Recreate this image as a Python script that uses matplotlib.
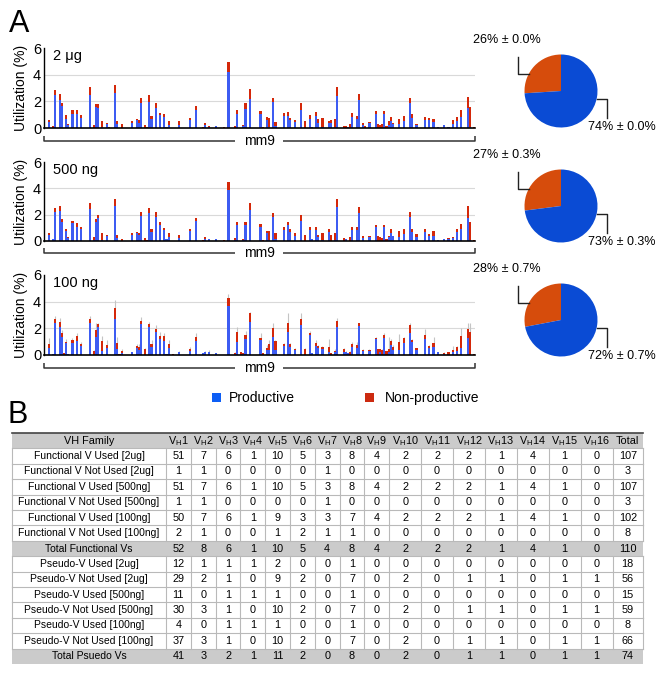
import numpy as np
import matplotlib
matplotlib.use('Agg')
import matplotlib.pyplot as plt
from matplotlib.patches import Rectangle

plt.rcParams['font.family'] = ['Liberation Sans', 'DejaVu Sans']
plt.rcParams['mathtext.fontset'] = 'custom'
plt.rcParams['mathtext.rm'] = 'Liberation Sans'
plt.rcParams['mathtext.it'] = 'Liberation Sans:italic'

# ---------------- data ----------------
n_slots = 200
gene_idx = [0,2,3,5,6,7,8,9,11,13, 15,19,21,22,23,25,27,28,31,32, 33,34,39,41,42,43,45,46,47,48,
            50,52,54,55,56,58,61,66,69,72, 73,75,78,82,84,87,88,90,91,92, 94,99,100,102,103,105,106,110,112,113,
            115,118,120,122,123,125,126,128,131,132, 134,135,138,139,140,141,142,144,145,147,
            148,150,153,154,155,156,157,158,159,160, 161,164,166,169,170,172,176,178,180,182,
            185,187,189,191,193,196,197,199]

prod_2ug = [.45,.03,2.5,2.1,1.62,0,.65,.2,1.08,1.02, .75,2.45,.02,1.58,1.5,.05,.28,0,2.65,.28,
            0,0,.4,.58,.38,1.88,.02,0,1.95,.65, 1.52,.95,.83,.08,.2,0,.2,.62,1.38,0,
            .25,.1,.15,0,4.2,.02,1.08,0,.17,1.4, 2.2,1.06,0,.62,.1,1.93,.17,.91,.91,.62,
            .42,1.36,.02,.67,.07,.91,.37,.05,.37,.37, .05,2.4,0,0,.07,0,.81,.67,2.1,.22,
            0,.37,1.06,0,0,0,1.06,0,.25,.49, .3,.32,.49,1.85,.74,.25,.62,.57,.42,.07,
            .2,.07,.32,.49,.79,1.53,.07,0]
nonprod_2ug = [.15,.12,.33,.43,.26,0,.3,.08,.3,.36, .2,.63,.18,.2,.28,.45,.12,.08,.55,.24,
               0,.28,.12,.07,.2,.4,.18,.08,.55,.23, .36,.2,.2,0,.32,0,.32,.13,.27,.08,
               .15,.05,0,.08,.75,.13,.3,0,.08,.45, .76,.24,.07,.18,.64,.34,.25,.25,.32,.14,
               .15,.49,.47,.27,0,.32,.3,.71,.12,.25, .62,.64,.17,.17,0,.32,.35,.24,.44,.15,
               .12,.1,.24,.32,.25,.32,.24,.17,.24,.37, .07,.37,.42,.42,.32,.07,.22,.19,.27,0,
               .05,0,.25,.32,.57,.82,1.53,.07]

prod_500ng = [.43,.1,2.17,2.3,1.45,0,.74,.2,1.33,1.07, .9,2.4,.02,1.45,1.7,.05,.36,0,2.68,.2,
              0,0,.43,.56,.4,1.91,0,0,2.09,.69, 1.84,1.2,.82,.13,.26,0,.18,.77,1.53,0,
              .13,.1,.15,0,3.88,.02,1.2,0,.05,1.2, 2.35,1.07,0,.61,.05,1.84,.1,.82,1.2,.69,
              .38,1.5,0,.82,.1,.82,.26,.05,.64,0, .05,2.55,0,.1,0,0,.82,.82,2.09,.18,
              0,.31,1.02,0,0,0,1.07,0,.26,.56, .36,.31,.51,1.84,.69,.31,.69,.36,.36,.05,
              .1,.1,.2,.64,.87,1.71,.05,0]
nonprod_500ng = [.13,.03,.36,.35,.21,0,.16,.06,.17,.26, .17,.5,.24,.18,.26,.51,.07,0,.51,.23,
                 0,.13,.13,.08,.16,.31,.2,.05,.38,.18, .38,.25,.17,0,.3,0,.25,.13,.23,.05,
                 .13,0,0,.05,.58,.16,.25,0,.05,.25, .55,.21,.05,.16,.66,.3,.46,.2,.25,.23,
                 .23,.5,.41,.25,0,.25,.2,.56,.26,.41, .56,.61,.2,.05,0,.31,.2,.2,.51,.18,
                 0,.07,.18,.36,.31,.2,.1,.15,.1,.34, 0,.4,.39,.38,.21,.2,.21,.15,.41,0,
                 .05,.08,.06,.26,.41,.94,1.4,.05]

prod_100ng = [.55,.05,2.38,2.08,1.38,.02,.88,.05,.88,1.08, .68,2.38,.02,1.38,2.08,.33,.5,0,2.68,.43,
              0,.18,.2,.55,.38,2.33,0,0,2.08,.63, 1.73,1.23,1.08,.08,.5,0,.25,.33,1.08,.13,
              .25,.25,.13,0,3.7,.05,1.0,0,.1,1.18, 2.5,1.13,0,.38,.38,1.38,.38,.68,1.75,.63,
              .38,2.25,0,1.5,.13,.68,.5,.45,.25,0, .25,2.08,.25,.2,.13,0,.58,.5,2.18,.28,
              0,.28,1.18,0,.25,0,1.25,0,.2,.75, .38,.38,.88,1.63,1.0,.38,1.2,.5,.63,.25,
              .1,0,.25,.33,.5,1.25,0,0]
nonprod_100ng = [.28,.03,.3,.37,.3,.16,.12,.03,.25,.35, .15,.3,.28,.5,.25,.72,.25,0,.87,.5,
                 .08,.15,0,.13,.2,.25,.45,0,.22,.2, .2,.22,.35,0,.33,.08,0,.12,.3,0,
                 0,0,0,0,.6,.13,.75,.22,.03,.32, .65,.12,.13,.12,.45,.62,.7,.15,.63,.2,
                 .07,.43,.45,.18,0,.2,.18,.13,.38,.18, .08,.5,.18,.05,0,.25,.25,.25,.2,.1,
                 0,.1,.07,.43,.18,.38,.25,.33,.23,.33, .25,.62,.37,.62,.13,.12,.3,.18,.3,0,
                 .08,.25,.13,.25,.93,.7,1.75,.08]
err_100ng = [.42,0,.25,.3,.2,0,.18,0,.15,.25, .15,.25,.1,.5,.1,.38,.38,0,.58,.45,
             0,.1,.05,.15,.25,.3,.1,0,.2,.3, .32,.3,.2,0,.3,0,.05,.18,.25,.05,
             .05,.13,0,0,.28,.05,.38,0,.05,.28, .1,.38,0,.25,.3,.38,.05,.1,.75,.1,
             .1,.45,.1,.15,0,.25,.1,.1,.55,0, .1,.17,.1,.05,0,.05,.17,.2,.05,.05,
             0,.05,.1,.05,.05,.05,.13,0,.9,.1, .1,.58,.1,.18,.1,.05,.43,.1,.45,0,
             .05,0,.3,.1,.57,.48,.68,0]

panel_labels = ['2 μg', '500 ng', '100 ng']
pie_nonprod = [26, 27, 28]
pie_prod = [74, 73, 72]
pie_sd = ['0.0', '0.3', '0.7']

col_labels = ['VH Family'] + [r'V$_{\mathrm{H}}$' + str(i) for i in range(1, 17)] + ['Total']
row_labels = ['Functional V Used [2ug]', 'Functional V Not Used [2ug]',
              'Functional V Used [500ng]', 'Functional V Not Used [500ng]',
              'Functional V Used [100ng]', 'Functional V Not Used [100ng]',
              'Total Functional Vs',
              'Pseudo-V Used [2ug]', 'Pseudo-V Not Used [2ug]',
              'Pseudo-V Used [500ng]', 'Pseudo-V Not Used [500ng]',
              'Pseudo-V Used [100ng]', 'Pseudo-V Not Used [100ng]',
              'Total Psuedo Vs']
table_values = [
    [51, 7, 6, 1, 10, 5, 3, 8, 4, 2, 2, 2, 1, 4, 1, 0, 107],
    [1, 1, 0, 0, 0, 0, 1, 0, 0, 0, 0, 0, 0, 0, 0, 0, 3],
    [51, 7, 6, 1, 10, 5, 3, 8, 4, 2, 2, 2, 1, 4, 1, 0, 107],
    [1, 1, 0, 0, 0, 0, 1, 0, 0, 0, 0, 0, 0, 0, 0, 0, 3],
    [50, 7, 6, 1, 9, 3, 3, 7, 4, 2, 2, 2, 1, 4, 1, 0, 102],
    [2, 1, 0, 0, 1, 2, 1, 1, 0, 0, 0, 0, 0, 0, 0, 0, 8],
    [52, 8, 6, 1, 10, 5, 4, 8, 4, 2, 2, 2, 1, 4, 1, 0, 110],
    [12, 1, 1, 1, 2, 0, 0, 1, 0, 0, 0, 0, 0, 0, 0, 0, 18],
    [29, 2, 1, 0, 9, 2, 0, 7, 0, 2, 0, 1, 1, 0, 1, 1, 56],
    [11, 0, 1, 1, 1, 0, 0, 1, 0, 0, 0, 0, 0, 0, 0, 0, 15],
    [30, 3, 1, 0, 10, 2, 0, 7, 0, 2, 0, 1, 1, 0, 1, 1, 59],
    [4, 0, 1, 1, 1, 0, 0, 1, 0, 0, 0, 0, 0, 0, 0, 0, 8],
    [37, 3, 1, 0, 10, 2, 0, 7, 0, 2, 0, 1, 1, 0, 1, 1, 66],
    [41, 3, 2, 1, 11, 2, 0, 8, 0, 2, 0, 1, 1, 0, 1, 1, 74],
]
total_rows = [6, 13]

# ---------------- styles ----------------
BAR_BLUE = '#3d5cf2'
BAR_RED = '#d4280a'
PIE_BLUE = '#0a4bd4'
PIE_ORANGE = '#d64c0c'
LEG_BLUE = '#0d5ef5'
LEG_RED = '#cc2a10'

W, H = 657, 686
fig = plt.figure(figsize=(W / 100, H / 100), dpi=100)

# overlay in pixel coordinates
ov = fig.add_axes([0, 0, 1, 1])
ov.set_xlim(0, W)
ov.set_ylim(H, 0)
ov.axis('off')
ov.patch.set_visible(False)

def fig_rect(x0, y0, x1, y1):
    return [x0 / W, 1 - y1 / H, (x1 - x0) / W, (y1 - y0) / H]

ov.text(9, 24, 'A', fontsize=22, va='center', ha='left')
ov.text(7, 415, 'B', fontsize=22, va='center', ha='left')

panels = [
    (prod_2ug, nonprod_2ug, None, 48, 128),
    (prod_500ng, nonprod_500ng, None, 162.3, 240.7),
    (prod_100ng, nonprod_100ng, err_100ng, 275, 355),
]
pie_centers = [91, 206, 320]

for k, (prod, nonp, err, ytop, ybot) in enumerate(panels):
    ax = fig.add_axes(fig_rect(44, ytop, 475, ybot))
    P = np.zeros(n_slots); N = np.zeros(n_slots)
    P[gene_idx] = prod
    N[gene_idx] = nonp
    x = np.arange(n_slots)
    for yv in (2, 4):
        ax.axhline(yv, color='#d9d9d9', lw=0.8, zorder=0)
    if err is not None:
        E = np.zeros(n_slots); E[gene_idx] = err
        ax.errorbar(x, P + N, yerr=[np.zeros(n_slots), E], fmt='none',
                    ecolor='#c4c4c4', elinewidth=0.8, capsize=0, zorder=1)
    ax.bar(x, P, width=1.0, color=BAR_BLUE, linewidth=0, zorder=2, antialiased=False)
    ax.bar(x, N, bottom=P, width=1.0, color=BAR_RED, linewidth=0, zorder=2, antialiased=False)
    ax.set_xlim(-2.34, 199.4)
    ax.set_ylim(0, 6)
    ax.set_yticks([0, 2, 4, 6])
    ax.set_xticks([])
    ax.tick_params(axis='y', length=0, labelsize=10.5, pad=2)
    for s in ('top', 'right'):
        ax.spines[s].set_visible(False)
    ax.spines['left'].set_linewidth(1.0)
    ax.spines['bottom'].set_linewidth(1.2)
    ax.patch.set_visible(False)
    ax.set_ylabel('Utilization (%)', fontsize=10)
    ax.yaxis.set_label_coords(-0.036, 0.5)
    ax.text(0.022, 0.9, panel_labels[k], transform=ax.transAxes, fontsize=10.5,
            ha='left', va='center')

    # mm9 bracket
    yb = ybot + 12.6
    ov.plot([44, 44, 235], [yb - 5, yb, yb], color='#333333', lw=1.1, solid_capstyle='butt')
    ov.plot([283, 475, 475], [yb, yb, yb - 5], color='#333333', lw=1.1, solid_capstyle='butt')
    ov.text(259, yb, 'mm9', fontsize=10, ha='center', va='center')

    # pie
    cy = pie_centers[k]
    r = 36.5
    pax = fig.add_axes(fig_rect(561 - 1.25 * r, cy - 1.25 * r, 561 + 1.25 * r, cy + 1.25 * r))
    pax.pie([pie_nonprod[k], pie_prod[k]], colors=[PIE_ORANGE, PIE_BLUE], startangle=90,
            counterclock=True, radius=1, wedgeprops=dict(linewidth=0))
    pax.set_xlim(-1.25, 1.25)
    pax.set_ylim(-1.25, 1.25)
    pax.axis('off')
    pax.plot([-1.178, -1.178, -0.885], [0.932, 0.466, 0.466], color='#222222', lw=1.0, clip_on=False)
    pax.plot([0.976, 1.252, 1.252], [-0.219, -0.219, -0.74], color='#222222', lw=1.0, clip_on=False)
    pax.text(-1.49, 1.40, f'{pie_nonprod[k]}% ± {pie_sd[k]}%', fontsize=9,
             ha='center', va='center', clip_on=False)
    pax.text(1.66, -0.99, f'{pie_prod[k]}% ± {pie_sd[k]}%', fontsize=9,
             ha='center', va='center', clip_on=False)

# legend
ov.add_patch(Rectangle((212, 393), 9, 9, color=LEG_BLUE, lw=0))
ov.text(229, 398, 'Productive', fontsize=10, va='center', ha='left')
ov.add_patch(Rectangle((365, 393), 9, 9, color=LEG_RED, lw=0))
ov.text(385, 398, 'Non-productive', fontsize=10, va='center', ha='left')

# ---------------- table ----------------
col_edges = [12, 166] + [166 + 24.8 * i for i in range(1, 10)] + \
            [389.2 + 31.9 * j for j in range(1, 8)] + [643]
row_h = 15.4
top = 433
n_rows = len(row_labels) + 1
row_edges = [top + row_h * i for i in range(n_rows + 1)]
GRID = '#b9b9b9'
FS = 7.8

# gray rows
for ri in [0] + [t + 1 for t in total_rows]:
    ov.add_patch(Rectangle((col_edges[0], row_edges[ri]), col_edges[-1] - col_edges[0], row_h,
                           facecolor='#cbcbcb', edgecolor='none', zorder=1))
# horizontal lines
for ri in range(1, n_rows):
    ov.plot([col_edges[0], col_edges[-1]], [row_edges[ri]] * 2, color=GRID, lw=0.8, zorder=2)
ov.plot([col_edges[0], col_edges[-1]], [row_edges[0]] * 2, color='#444444', lw=1.2, zorder=3)
# vertical lines (white rows only)
gray_set = set([0] + [t + 1 for t in total_rows])
for ri in range(n_rows):
    if ri in gray_set:
        continue
    for xe in col_edges:
        ov.plot([xe, xe], [row_edges[ri], row_edges[ri + 1]], color=GRID, lw=0.8, zorder=2)

centers_x = [(col_edges[i] + col_edges[i + 1]) / 2 for i in range(len(col_edges) - 1)]
for ci, lab in enumerate(col_labels):
    ov.text(centers_x[ci], (row_edges[0] + row_edges[1]) / 2, lab, fontsize=FS,
            ha='center', va='center', zorder=4)
for ri, lab in enumerate(row_labels):
    yc = (row_edges[ri + 1] + row_edges[ri + 2]) / 2
    ov.text(centers_x[0], yc, lab, fontsize=7.5, ha='center', va='center', zorder=4)
    for ci, v in enumerate(table_values[ri]):
        ov.text(centers_x[ci + 1], yc, str(v), fontsize=FS, ha='center', va='center', zorder=4)

fig.savefig('out.png', dpi=100)
